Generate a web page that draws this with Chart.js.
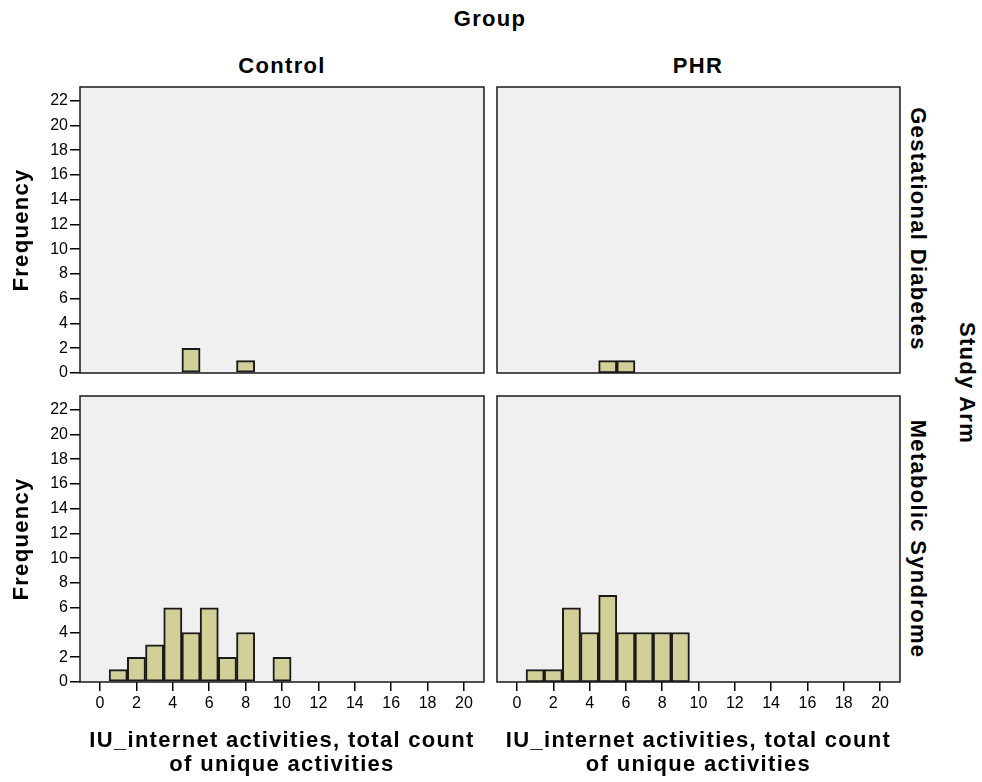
<!DOCTYPE html>
<html>
<head>
<meta charset="utf-8">
<script src="https://cdn.jsdelivr.net/npm/chart.js@4.4.0/dist/chart.umd.min.js"></script>
<style>
  body { margin:0; background:#fff; font-family:"Liberation Sans", Arial, sans-serif; }
  #wrap { position:relative; width:982px; height:782px; overflow:hidden; }
  canvas { position:absolute; }
  .lbl { position:absolute; font-weight:bold; font-size:22px; letter-spacing:1.3px; color:#000; white-space:nowrap; line-height:24px; transform:translate(-50%,-50%); }
  .rot { transform:translate(-50%,-50%) rotate(90deg); }
</style>
</head>
<body>
<div id="wrap">
  <div class="lbl" style="left:490px;top:19px;">Group</div>
  <div class="lbl" style="left:282px;top:66px;">Control</div>
  <div class="lbl" style="left:698px;top:66px;">PHR</div>
  <div class="lbl rot" style="left:918px;top:229px;">Gestational Diabetes</div>
  <div class="lbl rot" style="left:918px;top:539px;">Metabolic Syndrome</div>
  <div class="lbl rot" style="left:967px;top:383px;">Study Arm</div>
  <canvas id="c1" width="490" height="300" style="left:0px;top:80px;"></canvas>
  <canvas id="c2" width="420" height="300" style="left:490px;top:80px;"></canvas>
  <canvas id="c3" width="490" height="392" style="left:0px;top:390px;"></canvas>
  <canvas id="c4" width="420" height="392" style="left:490px;top:390px;"></canvas>
</div>
<script>
// bins of the histogram (count of unique activities)
var bins = [0,1,2,3,4,5,6,7,8,9,10,11,12,13,14,15,16,17,18,19,20];
// frequencies per bin
var controlGestational = [0,0,0,0,0,2,0,0,1,0,0,0,0,0,0,0,0,0,0,0,0];
var phrGestational     = [0,0,0,0,0,1,1,0,0,0,0,0,0,0,0,0,0,0,0,0,0];
var controlMetabolic   = [0,1,2,3,6,4,6,2,4,0,2,0,0,0,0,0,0,0,0,0,0];
var phrMetabolic       = [0,1,1,6,4,7,4,4,4,4,0,0,0,0,0,0,0,0,0,0,0];

var xTicks = [0,2,4,6,8,10,12,14,16,18,20];
var yTicks = [0,2,4,6,8,10,12,14,16,18,20,22];

var fuente = '"Liberation Sans", Arial, sans-serif';

// fondo gris y marco del panel
var marco = {
  id: 'marco',
  beforeDatasetsDraw: function(chart){
    var a = chart.chartArea, ctx = chart.ctx;
    ctx.save();
    ctx.fillStyle = '#f0f0f0';
    ctx.fillRect(a.left, a.top, a.right-a.left, a.bottom-a.top);
    ctx.restore();
  },
  afterDatasetsDraw: function(chart){
    var a = chart.chartArea, ctx = chart.ctx;
    ctx.save();
    ctx.strokeStyle = '#1a1a1a';
    ctx.lineWidth = 1.5;
    ctx.strokeRect(a.left, a.top, a.right-a.left, a.bottom-a.top);
    ctx.restore();
  }
};

// titulos de eje un poco mas anchos, como en el original
function espaciar(s){
  if (s._espaciado) return;
  var orig = s.drawTitle;
  s.drawTitle = function(){
    var c = this.ctx, prev = c.letterSpacing;
    c.letterSpacing = '1.3px';
    orig.apply(this, arguments);
    c.letterSpacing = prev || '0px';
  };
  s._espaciado = true;
}

function panel(id, counts, showY, showX, pad){
  var puntos = [];
  for (var i = 0; i < bins.length; i++) {
    puntos.push({x: bins[i], y: counts[i] > 0 ? counts[i] : null});
  }
  var ctx = document.getElementById(id).getContext('2d');
  return new Chart(ctx, {
    type: 'bar',
    plugins: [marco],
    data: {
      datasets: [{
        data: puntos,
        backgroundColor: '#d3cf98',
        borderColor: '#1a1a1a',
        borderWidth: 2,
        borderSkipped: false,
        barPercentage: 1,
        categoryPercentage: 1
      }]
    },
    options: {
      responsive: false,
      animation: false,
      layout: { padding: pad },
      plugins: { legend: { display: false }, tooltip: { enabled: false } },
      scales: {
        x: {
          type: 'linear',
          display: showX,
          offset: false,
          min: -1.1,
          max: 21.1,
          afterBuildTicks: function(s){ s.ticks = xTicks.map(function(v){ return {value: v}; }); },
          afterFit: function(s){
            s.paddingLeft = 0; s.paddingRight = 0;
            if (showX) s.height = 100;
            espaciar(s);
          },
          grid: { offset: false, drawOnChartArea: false, drawTicks: true, tickLength: 9, color: '#000', lineWidth: 1.5 },
          border: { display: false },
          ticks: { color: '#000', padding: 3, maxRotation: 0, autoSkip: false, font: { family: fuente, size: 16 } },
          title: {
            display: true,
            text: ['IU_internet activities, total count', 'of unique activities'],
            color: '#000',
            padding: { top: 0, bottom: 5 },
            font: { family: fuente, size: 22, weight: 'bold', lineHeight: '24px' }
          }
        },
        y: {
          display: showY,
          min: 0,
          max: 23.1,
          afterBuildTicks: function(s){ s.ticks = yTicks.map(function(v){ return {value: v}; }); },
          afterFit: function(s){
            s.paddingTop = 0; s.paddingBottom = 0;
            if (showY) s.width = 80;
            espaciar(s);
          },
          grid: { drawOnChartArea: false, drawTicks: true, tickLength: 10, color: '#000', lineWidth: 1.5 },
          border: { display: false },
          ticks: { color: '#000', padding: 2, autoSkip: false, font: { family: fuente, size: 16 } },
          title: {
            display: true,
            text: 'Frequency',
            color: '#000',
            padding: { top: 9, bottom: 0 },
            font: { family: fuente, size: 22, weight: 'bold', lineHeight: 1.2 }
          }
        }
      }
    }
  });
}

panel('c1', controlGestational, true, false, {left: 0, right: 6, top: 7, bottom: 7});
panel('c2', phrGestational, false, false, {left: 7, right: 10, top: 7, bottom: 7});
panel('c3', controlMetabolic, true, true, {left: 0, right: 6, top: 6, bottom: 0});
panel('c4', phrMetabolic, false, true, {left: 7, right: 10, top: 6, bottom: 0});
</script>
</body>
</html>
